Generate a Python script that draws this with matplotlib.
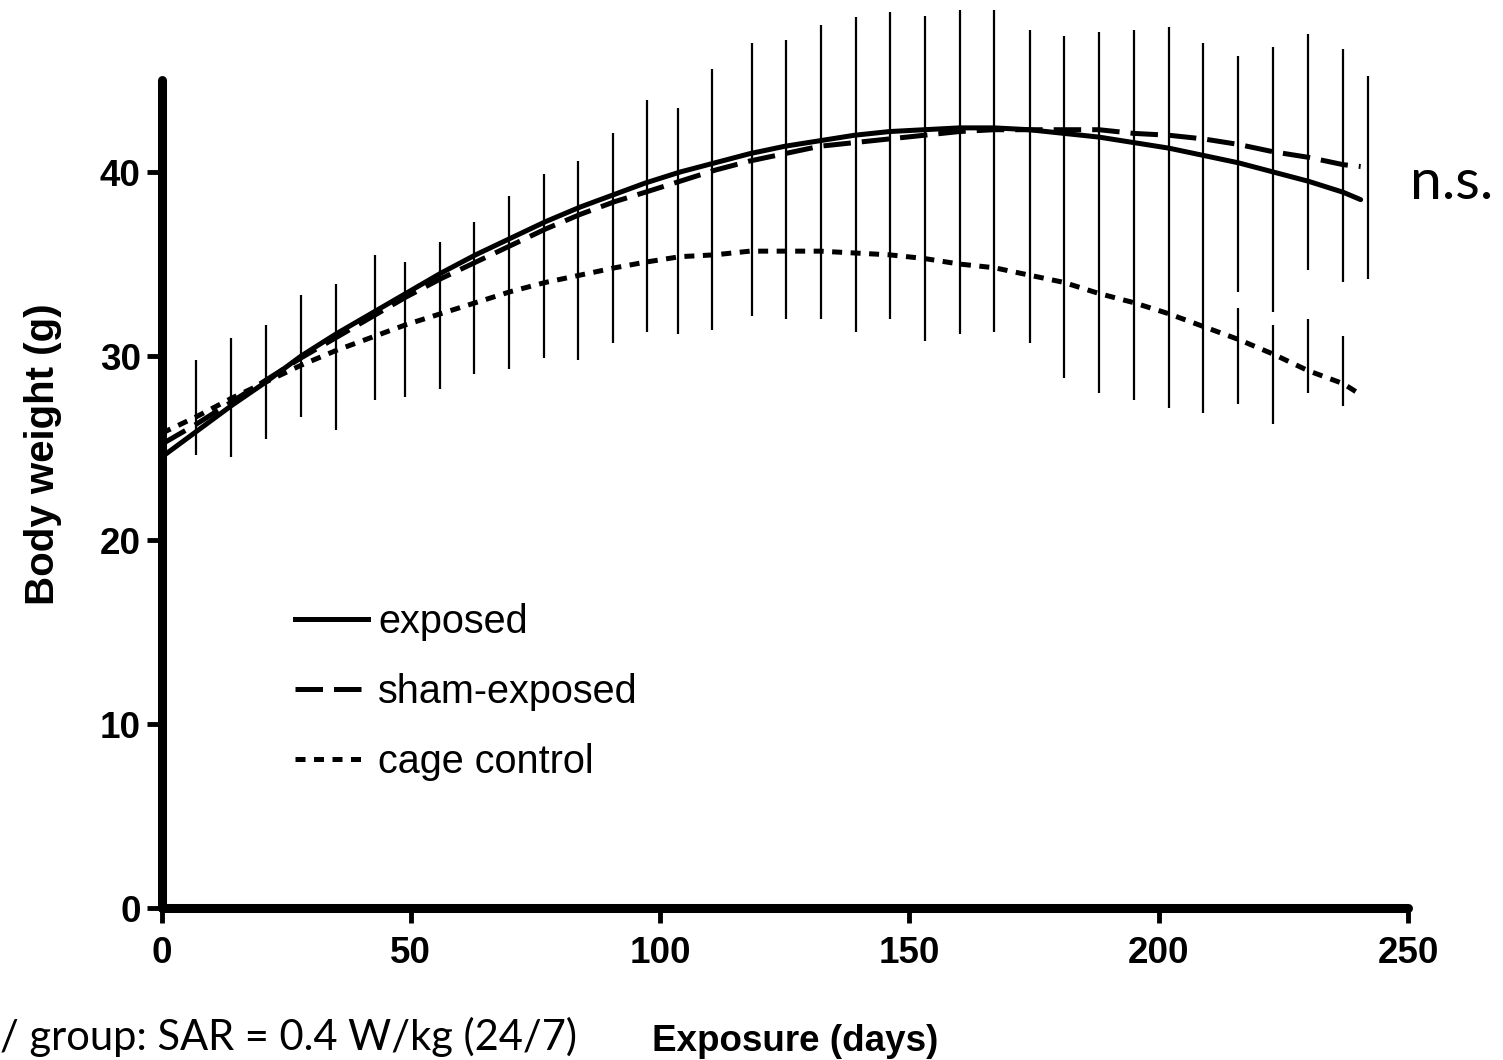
import matplotlib
matplotlib.use("Agg")
import matplotlib.pyplot as plt
from matplotlib.lines import Line2D

# fitted growth curves (g)
days = [0, 7, 14, 21, 28, 35, 42, 49, 56, 63, 70, 77, 84, 91, 97, 104,
        111, 118, 125, 132, 139, 146, 153, 160, 167, 174, 181, 188, 195,
        202, 209, 216, 223, 230, 237, 240.5]
exposed = [24.5, 25.9, 27.3, 28.6, 30.0, 31.2, 32.3, 33.4, 34.5, 35.5,
           36.4, 37.3, 38.1, 38.8, 39.4, 40.0, 40.5, 41.0, 41.4, 41.7,
           42.0, 42.2, 42.3, 42.4, 42.4, 42.3, 42.1, 41.9, 41.6, 41.3,
           40.9, 40.5, 40.0, 39.5, 38.9, 38.5]
sham = [25.2, 26.3, 27.5, 28.7, 29.9, 31.0, 32.1, 33.2, 34.2, 35.1, 36.0,
        36.9, 37.7, 38.4, 38.9, 39.5, 40.1, 40.6, 41.0, 41.4, 41.6, 41.8,
        42.0, 42.2, 42.3, 42.3, 42.3, 42.3, 42.1, 42.0, 41.8, 41.5, 41.1,
        40.8, 40.4, 40.3]
cage = [25.8, 26.7, 27.7, 28.6, 29.5, 30.3, 31.0, 31.7, 32.3, 32.9, 33.5,
        34.0, 34.4, 34.8, 35.1, 35.4, 35.5, 35.7, 35.7, 35.7, 35.6, 35.5,
        35.3, 35.0, 34.8, 34.4, 34.0, 33.4, 32.9, 32.3, 31.6, 30.9, 30.1,
        29.2, 28.5, 27.9]

# SD bars
bar_days = [6.9, 13.9, 20.9, 27.9, 34.9, 42.9, 48.8, 55.8, 62.7, 69.7,
            76.8, 83.6, 90.6, 97.4, 103.5, 110.5, 118.4, 125.3, 132.2,
            139.3, 146.1, 153.1, 160.1, 167.0, 174.1, 181.1, 188.1, 195.0,
            202.0, 208.9, 216.0, 223.0, 230.0, 236.9, 242.0]
bar_high = [29.8, 31.0, 31.7, 33.3, 33.9, 35.5, 35.1, 36.2, 37.3, 38.7,
            39.9, 40.6, 42.1, 43.9, 43.5, 45.6, 47.0, 47.2, 48.0, 48.4,
            48.7, 48.5, 48.8, 48.8, 47.7, 47.4, 47.6, 47.7, 47.9, 47.0,
            46.3, 46.8, 47.5, 46.7, 45.2]
bar_low = [24.6, 24.5, 25.5, 26.7, 26.0, 27.6, 27.8, 28.2, 29.0, 29.3,
           29.9, 29.8, 30.7, 31.3, 31.2, 31.4, 32.2, 32.0, 32.0, 31.3,
           32.0, 30.8, 31.2, 31.3, 30.7, 28.8, 28.0, 27.6, 27.2, 26.9,
           27.4, 26.3, 28.0, 27.3, 34.2]
# breaks between the upper and lower bars at the late time points
gap_days = [216.0, 223.0, 230.0, 236.9]
gap_top = [33.5, 32.4, 34.7, 34.0]
gap_bottom = [32.6, 31.7, 32.0, 31.1]

xticks = [0, 50, 100, 150, 200, 250]
yticks = [0, 10, 20, 30, 40]
labels = ["exposed", "sham-exposed", "cage control"]

W, H = 1503, 1060
sans = ["Liberation Sans", "DejaVu Sans"]

fig = plt.figure(figsize=(W / 100, H / 100), dpi=100)
ax = fig.add_axes([161.5 / W, 152 / H, (1408 - 161.5) / W, 908 / H])
ax.set_xlim(0, 250)
ax.set_ylim(0, 49.35)

for d, lo, hi in zip(bar_days, bar_low, bar_high):
    if d in gap_days:
        k = gap_days.index(d)
        ax.vlines([d, d], [lo, gap_top[k]], [gap_bottom[k], hi],
                  color="black", lw=1.6)
    else:
        ax.vlines(d, lo, hi, color="black", lw=1.6)

lw = 3.6
ax.plot(days, exposed, color="black", lw=lw, solid_capstyle="round")
ax.plot(days, sham, color="black", lw=lw, ls=(0, (5.5, 2.2)))
ax.plot(days, cage, color="black", lw=lw, ls=(0, (2.0, 1.7)))

for side in ["top", "right"]:
    ax.spines[side].set_visible(False)
ax.spines["left"].set_linewidth(6.5)
ax.spines["bottom"].set_linewidth(6.5)
ax.spines["left"].set_bounds(0, 45)
ax.spines["bottom"].set_bounds(0, 250)
ax.spines["left"].set_capstyle("round")
ax.spines["bottom"].set_capstyle("round")

ax.set_xticks(xticks)
ax.set_yticks(yticks)
ax.tick_params(length=11, width=3.5, pad=4, labelsize=26.5)
ax.tick_params(axis="x", pad=9)
for t in ax.get_xticklabels() + ax.get_yticklabels():
    t.set_fontfamily(sans)
    t.set_fontweight("bold")

ax.set_ylabel("Body weight (g)", fontsize=29, fontweight="bold",
              family=sans, labelpad=27)
fig.text(795 / W, 9 / H, "Exposure (days)", fontsize=26.5,
         fontweight="bold", family=sans, ha="center", va="baseline")

handles = [Line2D([], [], color="black", lw=lw),
           Line2D([], [], color="black", lw=lw, ls=(0, (5.5, 2.2))),
           Line2D([], [], color="black", lw=lw, ls=(0, (2.0, 1.7)))]
ax.legend(handles, labels, loc="center left",
          bbox_to_anchor=(295 / W, 1 - 692 / H),
          bbox_transform=fig.transFigure, frameon=False,
          prop={"family": sans, "size": 28.5},
          handlelength=1.85, handletextpad=0.25, labelspacing=0.8,
          borderpad=0, borderaxespad=0)

fig.text(1410 / W, 1 - 199 / H, "n.s.", fontsize=41, family="Lato",
         ha="left", va="baseline")
fig.text(0, 10 / H, "/ group: SAR = 0.4 W/kg (24/7)", fontsize=30,
         family="Lato", ha="left", va="baseline")

fig.savefig("out.png", dpi=100)
